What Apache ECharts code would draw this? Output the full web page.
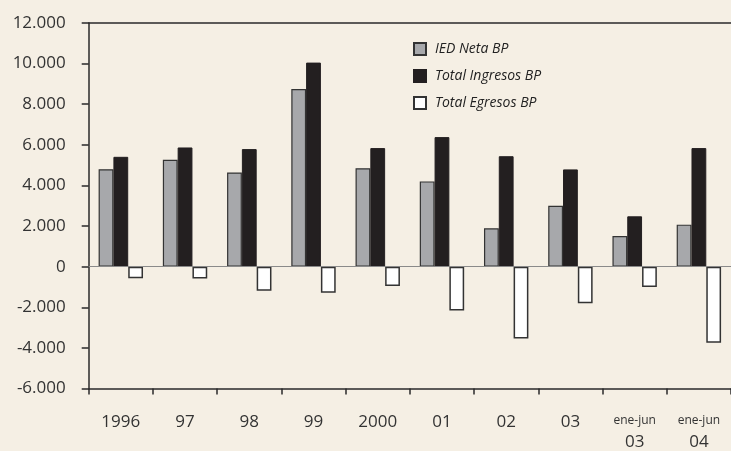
<!DOCTYPE html>
<html>
<head>
<meta charset="utf-8">
<script src="https://cdn.jsdelivr.net/npm/echarts@6/dist/echarts.min.js"></script>
<style>
html,body{margin:0;padding:0;background:#f5efe4;}
#c{width:731px;height:451px;}
</style>
</head>
<body>
<div id="c"></div>
<script>
const categories = ['1996', '97', '98', '99', '2000', '01', '02', '03', 'ene-jun\n03', 'ene-jun\n04'];
const iedNeta = [4800, 5260, 4640, 8750, 4850, 4200, 1890, 3000, 1510, 2070];
const totalIngresos = [5410, 5870, 5790, 10050, 5840, 6380, 5440, 4790, 2480, 5840];
const totalEgresos = [-570, -580, -1180, -1280, -950, -2160, -3540, -1800, -1000, -3750];
const yTicks = { min: -6000, max: 12000, interval: 2000 };
const seriesNames = ['IED Neta BP', 'Total Ingresos BP', 'Total Egresos BP'];

const chart = echarts.init(document.getElementById('c'), null, { renderer: 'canvas' });
const fmt = v => {
  const s = Math.abs(v).toString().replace(/\B(?=(\d{3})+(?!\d))/g, '.');
  return (v < 0 ? '-' : '') + s;
};
const font = '"Open Sans", sans-serif';
const bw = 14.8;
chart.setOption({
  backgroundColor: '#f5efe4',
  animation: false,
  grid: { left: 88.7, top: 23, bottom: 62, right: -3.7, containLabel: false },
  legend: {
    orient: 'vertical',
    left: 408, top: 37,
    itemWidth: 12, itemHeight: 12, itemGap: 13,
    icon: 'rect',
    textStyle: { fontFamily: font, fontStyle: 'italic', fontSize: 14, color: '#222', padding: [0, 0, 0, 4] },
    data: seriesNames
  },
  xAxis: [{
    type: 'category',
    data: categories,
    position: 'bottom',
    axisLine: { onZero: false, lineStyle: { color: '#2a2a2a', width: 1.5 } },
    axisTick: { show: true, length: 6, inside: false, lineStyle: { color: '#2a2a2a', width: 1.5 } },
    axisLabel: {
      margin: 25,
      interval: 0,
      fontFamily: font,
      fontSize: 17,
      color: '#333',
      formatter: function (v) {
        if (v.indexOf('\n') >= 0) {
          const p = v.split('\n');
          return '{s|' + p[0] + '}\n{b|' + p[1] + '}';
        }
        return '{n|' + v + '}';
      },
      rich: {
        n: { fontFamily: font, fontSize: 17, color: '#333', padding: [0, 0, 0, 0] },
        s: { fontFamily: font, fontSize: 12, color: '#333', lineHeight: 18, padding: [0, 0, 3, 0] },
        b: { fontFamily: font, fontSize: 17, color: '#333', lineHeight: 22 }
      }
    },
    splitLine: { show: false }
  }, {
    type: 'category',
    data: categories,
    position: 'top',
    axisLine: { onZero: false, lineStyle: { color: '#2a2a2a', width: 1.5 } },
    axisTick: { show: false },
    axisLabel: { show: false }
  }],
  yAxis: {
    type: 'value',
    min: yTicks.min, max: yTicks.max, interval: yTicks.interval,
    axisLine: { show: true, lineStyle: { color: '#2a2a2a', width: 1.5 } },
    axisTick: { show: true, length: 7, lineStyle: { color: '#2a2a2a', width: 1.5 } },
    splitLine: { show: false },
    axisLabel: { fontFamily: font, fontSize: 17, color: '#333', margin: 23, formatter: fmt }
  },
  series: [
    {
      name: seriesNames[0], type: 'bar', data: iedNeta, barWidth: bw, barGap: '0%',
      itemStyle: { color: '#a7a8ab', borderColor: '#333', borderWidth: 1.2 },
      markLine: {
        silent: true, symbol: 'none', label: { show: false },
        lineStyle: { color: '#8a8a8a', width: 1.2, type: 'solid' },
        data: [{ yAxis: 0 }]
      }
    },
    {
      name: seriesNames[1], type: 'bar', data: totalIngresos, barWidth: bw, barGap: '0%',
      itemStyle: { color: '#231f20', borderColor: '#231f20', borderWidth: 1 }
    },
    {
      name: seriesNames[2], type: 'bar', data: totalEgresos, barWidth: bw, barGap: '0%',
      itemStyle: { color: '#ffffff', borderColor: '#333', borderWidth: 1.5 }
    }
  ]
});
</script>
</body>
</html>
